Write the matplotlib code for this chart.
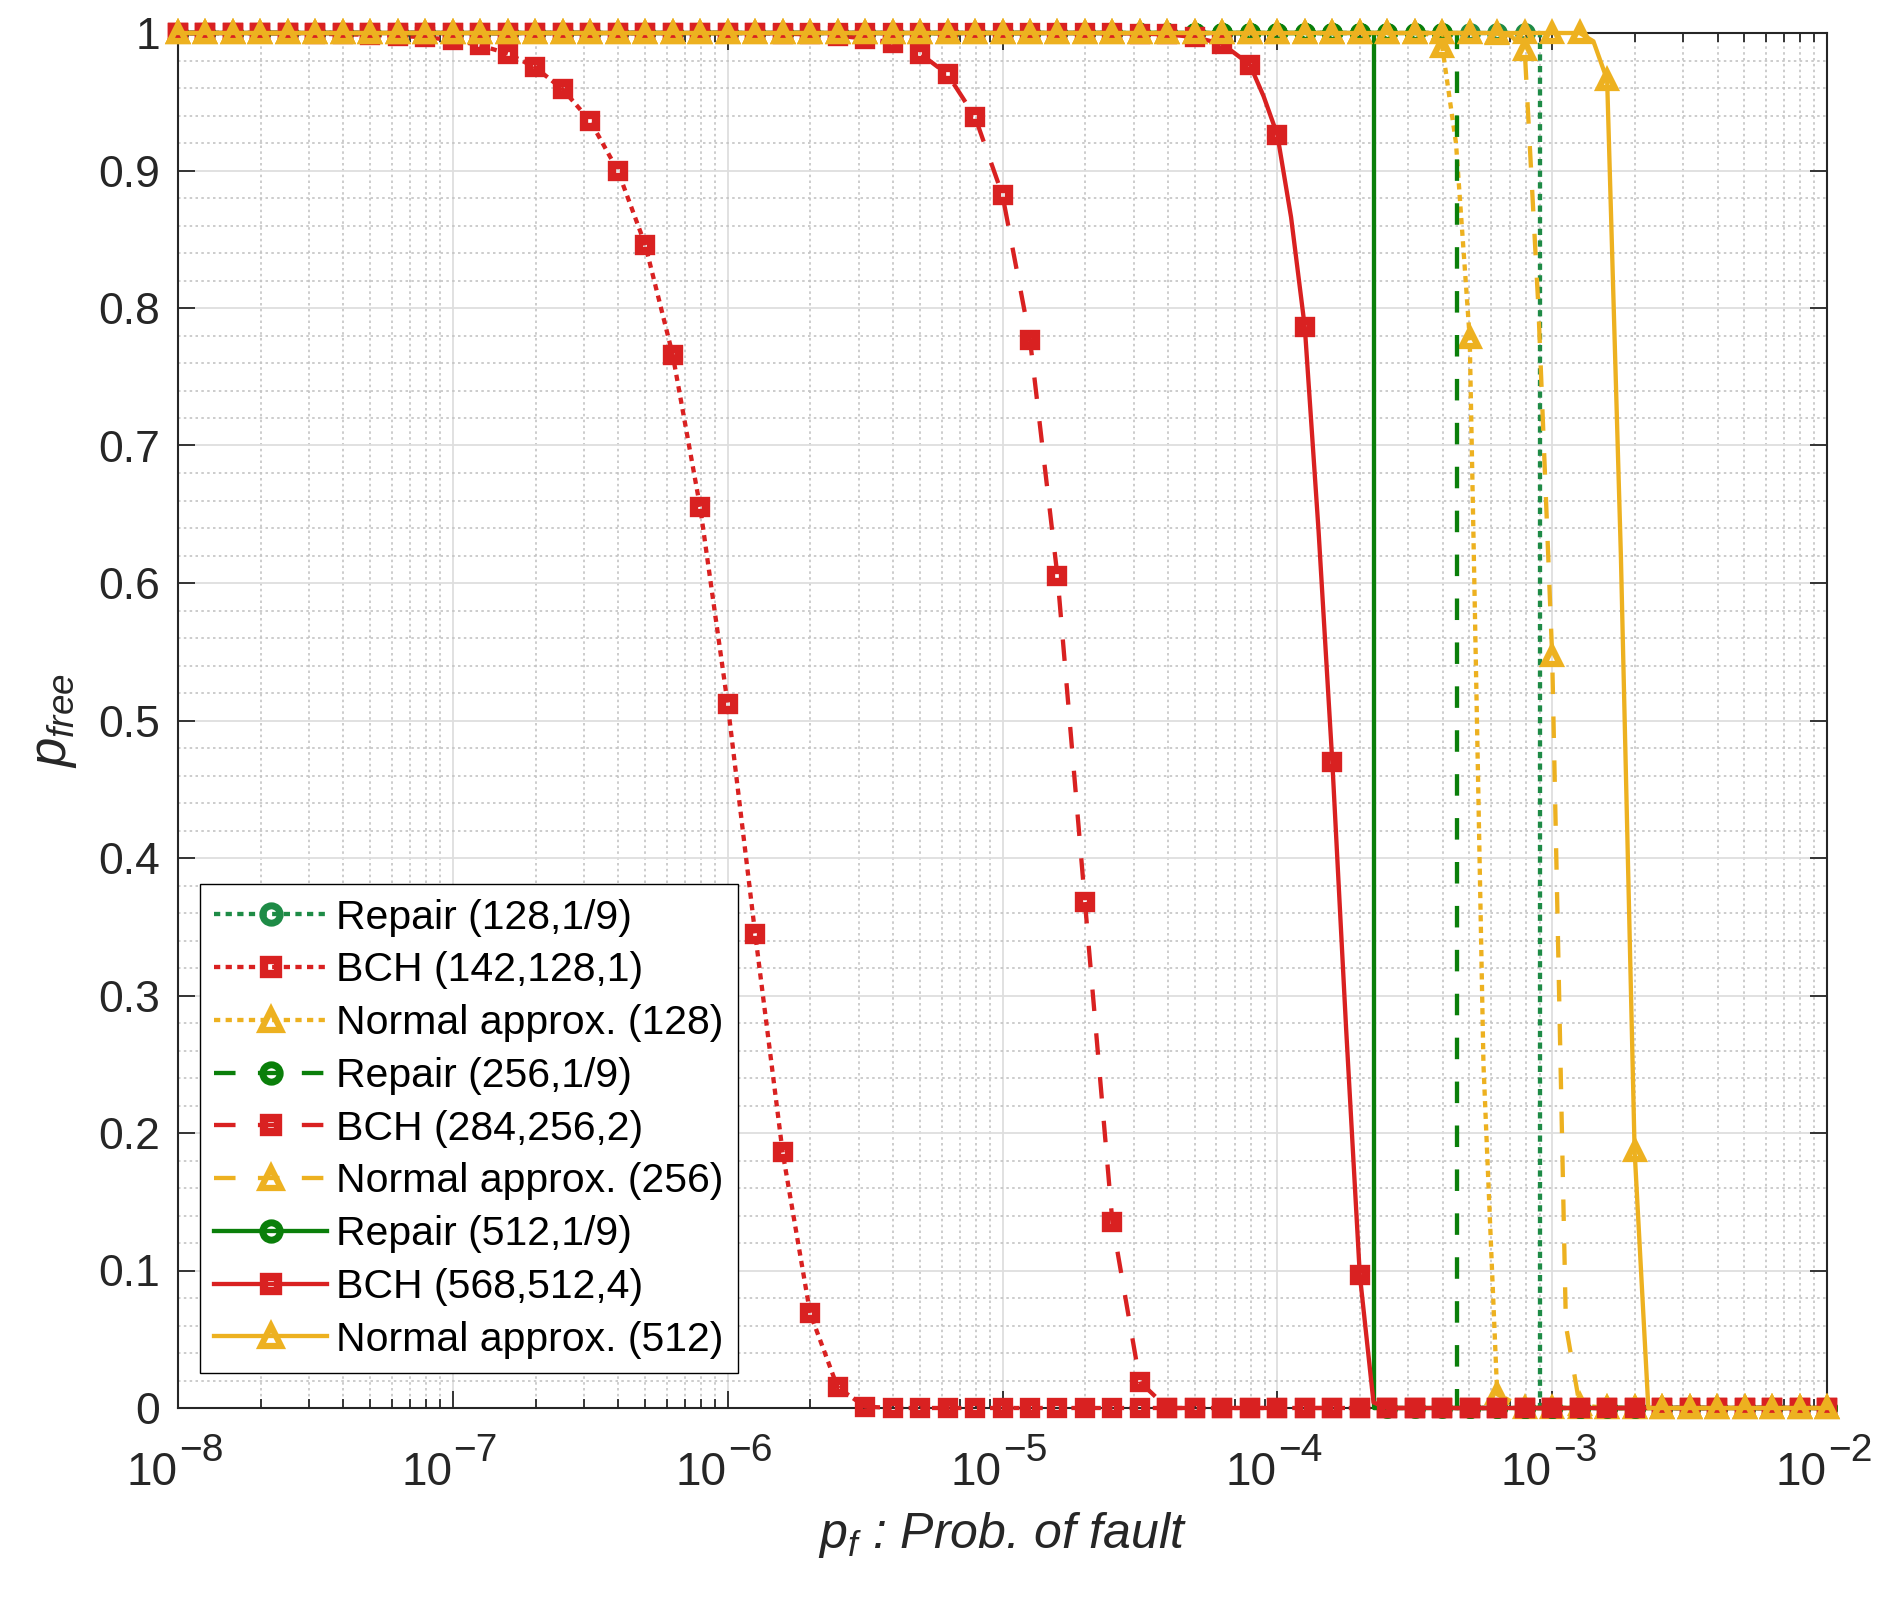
import numpy as np
import matplotlib
matplotlib.use("Agg")
import matplotlib.pyplot as plt
import matplotlib.transforms as mtransforms
from matplotlib.lines import Line2D
from matplotlib.ticker import LogLocator, MultipleLocator, NullFormatter, FuncFormatter

plt.rcParams['font.family'] = ['Liberation Sans', 'DejaVu Sans']
plt.rcParams['mathtext.fontset'] = 'custom'
plt.rcParams['mathtext.rm'] = 'Liberation Sans'
plt.rcParams['mathtext.it'] = 'Liberation Sans:italic'
plt.rcParams['mathtext.bf'] = 'Liberation Sans:bold'

# p_f sampled every 0.1 decade (one marker per sample)
pf = 10.0 ** np.linspace(-8, -2, 61)
decades = [-8, -7, -6, -5, -4, -3, -2]

# values, one per sample of pf
bch128 = [1] * 5 + [0.9995, 0.999, 0.9987, 0.998, 0.9968,
                    0.995, 0.991, 0.985, 0.975, 0.959, 0.936, 0.900, 0.846,
                    0.766, 0.655, 0.512, 0.345, 0.186, 0.069, 0.015, 0.001] + [0] * 35
bch256 = [1] * 22 + [0.9995, 0.999, 0.998, 0.996, 0.993, 0.985, 0.970,
                     0.939, 0.882, 0.777, 0.605, 0.368, 0.135, 0.019] + [0] * 25
bch512 = [1] * 35 + [0.9995, 0.999, 0.997, 0.992, 0.977, 0.926, 0.786,
                     0.470, 0.097] + [0] * 17
normal128 = [1] * 46 + [0.99, 0.778, 0.01] + [0] * 12
normal256 = [1] * 48 + [0.9995, 0.988, 0.547, 0.002] + [0] * 9
normal512 = [1] * 52 + [0.966, 0.187] + [0] * 7

# extra points on the steep parts of the curves (no marker there)
bch512_mid_exp = [-4.05, -3.95, -3.85, -3.75, -3.65]
bch512_mid = [0.954, 0.866, 0.638, 0.277, 0.004]
normal128_mid_exp = [-3.45, -3.35, -3.25]
normal128_mid = [0.999, 0.92, 0.25]
normal256_mid_exp = [-3.15, -3.05, -2.95]
normal256_mid = [0.998, 0.80, 0.06]
normal512_mid_exp = [-2.85, -2.75, -2.65]
normal512_mid = [0.994, 0.62, 0.0]

# repair curves are steps: 1 below the threshold, 0 above
repair128 = [1] * 50 + [0] * 11
repair256 = [1] * 47 + [0] * 14
repair512 = [1] * 44 + [0] * 17
repair_steps = [9.0e-4, 4.5e-4, 2.25e-4]

labels = ['Repair (128,1/9)', 'BCH (142,128,1)', 'Normal approx. (128)',
          'Repair (256,1/9)', 'BCH (284,256,2)', 'Normal approx. (256)',
          'Repair (512,1/9)', 'BCH (568,512,4)', 'Normal approx. (512)']

green_dot = '#1e8b46'
green = '#0a7f0a'
red = '#d92121'
yellow = '#edb120'
axcol = '#262626'

dotted = (0, (1.45, 1.25))
dashed = (0, (5.0, 5.2))

series = [
    (repair128, green_dot, dotted, 'o', 0, None),
    (bch128, red, dotted, 's', None, None),
    (normal128, yellow, dotted, '^', None, (normal128_mid_exp, normal128_mid)),
    (repair256, green, dashed, 'o', 1, None),
    (bch256, red, dashed, 's', None, None),
    (normal256, yellow, dashed, '^', None, (normal256_mid_exp, normal256_mid)),
    (repair512, green, '-', 'o', 2, None),
    (bch512, red, '-', 's', None, (bch512_mid_exp, bch512_mid)),
    (normal512, yellow, '-', '^', None, (normal512_mid_exp, normal512_mid)),
]

msize = {'o': 10, 's': 8, '^': 12}
mwidth = {'o': 5, 's': 6, '^': 4.5}
LW = 3.1

fig, ax = plt.subplots(figsize=(18.96, 16.01), dpi=100)
fig.subplots_adjust(left=178 / 1896, right=1827 / 1896,
                    bottom=1 - 1408 / 1601, top=1 - 33 / 1601)

handles = []
z = 3
for vals, col, ls, mk, step_i, mid in series:
    vals = np.array(vals, dtype=float)
    if step_i is not None:
        # vertical jump at the repair threshold
        n = int(np.sum(pf < repair_steps[step_i]))
        lx = np.insert(pf, n, [repair_steps[step_i]] * 2)
        ly = np.insert(vals, n, [1, 0])
    elif mid is not None:
        lx = np.concatenate([pf, 10.0 ** np.array(mid[0])])
        ly = np.concatenate([vals, mid[1]])
        order = np.argsort(lx)
        lx, ly = lx[order], ly[order]
    else:
        lx, ly = pf, vals
    ax.plot(lx, ly, color=col, ls=ls, lw=LW, zorder=z, clip_on=False)
    ax.plot(pf, vals, ls='none', marker=mk, ms=msize[mk], mew=mwidth[mk],
            mec=col, mfc='none', zorder=z + 0.5, clip_on=False)
    z += 1
    handles.append(Line2D([], [], color=col, ls=ls, lw=LW, marker=mk,
                          ms=msize[mk], mew=mwidth[mk], mec=col, mfc='none'))

ax.set_xscale('log')
ax.set_xlim(1e-8, 1e-2)
ax.set_ylim(0, 1)

ax.xaxis.set_major_locator(LogLocator(base=10, numticks=20))
ax.xaxis.set_minor_locator(LogLocator(base=10, subs=np.arange(2, 10), numticks=100))
ax.xaxis.set_major_formatter(NullFormatter())
ax.xaxis.set_minor_formatter(NullFormatter())
ax.set_yticks(np.arange(0, 1.01, 0.1))
ax.yaxis.set_major_formatter(FuncFormatter(lambda v, p: f'{v:g}'))
ax.yaxis.set_minor_locator(MultipleLocator(0.02))

# decade labels drawn by hand: MATLAB-style large exponents
base_tr = mtransforms.blended_transform_factory(ax.transData, ax.transAxes)
for d in decades:
    t10 = mtransforms.offset_copy(base_tr, fig=fig, x=-0.5, y=-55.5, units='points')
    ax.text(10.0 ** d, 0, '10', transform=t10, ha='right', va='baseline',
            fontsize=33, color=axcol, clip_on=False)
    tex = mtransforms.offset_copy(base_tr, fig=fig, x=0.5, y=-38.5, units='points')
    ax.text(10.0 ** d, 0, '\u2212' + str(-d), transform=tex, ha='left', va='baseline',
            fontsize=28, color=axcol, clip_on=False)

ax.grid(True, which='major', color='#dedede', lw=1.3, ls='-')
ax.grid(True, which='minor', color='#c4c4c4', lw=1.2, ls=(0, (1.5, 2)))
ax.set_axisbelow(True)

ax.tick_params(which='both', direction='in', top=True, right=True,
               colors=axcol, width=1.3)
ax.tick_params(which='major', length=12)
ax.tick_params(axis='y', which='major', pad=13, labelsize=32)
ax.tick_params(axis='x', which='minor', length=6.5)
ax.tick_params(axis='y', which='minor', length=0)
for s in ax.spines.values():
    s.set_color(axcol)
    s.set_linewidth(1.5)

ax.set_ylabel(r'$p_{free}$', fontsize=38, color=axcol, labelpad=14)
ax.set_xlabel(r'$p_f$ : Prob. of fault', fontsize=36, fontstyle='italic', color=axcol)
ax.xaxis.set_label_coords(0.5, -0.074)

leg = ax.legend(handles, labels, loc='lower left', bbox_to_anchor=(0.0133, 0.0255),
                borderaxespad=0, fontsize=29.5, markerscale=1.25, handlelength=2.75,
                handletextpad=0.22, labelspacing=0.36, borderpad=0.35,
                fancybox=False, framealpha=1, edgecolor='black')
leg.get_frame().set_linewidth(1.0)
leg.set_zorder(20)

fig.savefig('out.png', dpi=100)
